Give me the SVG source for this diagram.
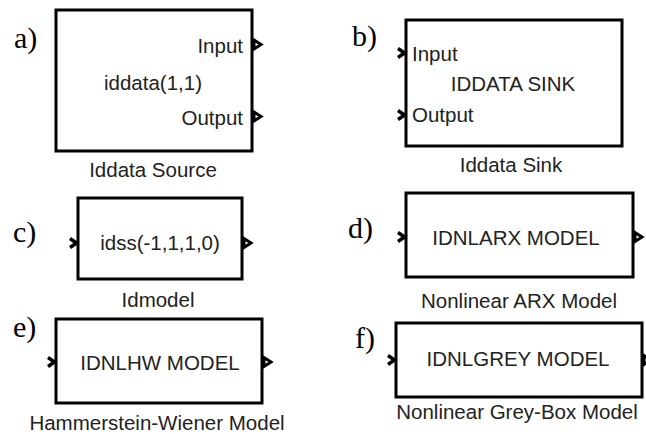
<svg xmlns="http://www.w3.org/2000/svg" width="646" height="434" viewBox="0 0 646 434">
<style>
.box{fill:#fff;stroke:#000;stroke-width:3}
.t{font-family:"Liberation Sans",Arial,sans-serif;font-size:20.5px;fill:#222}
.m{text-anchor:middle}
.lab{font-family:"Liberation Serif","Times New Roman",serif;font-size:30px;fill:#000}
.in{fill:none;stroke:#000;stroke-width:3.5;stroke-linejoin:miter}
.out{fill:#fff;stroke:#000;stroke-width:3;stroke-linejoin:miter}
</style>
<rect width="646" height="434" fill="#fff"/>
<g id="node-a">
<text class="lab" x="14" y="48">a)</text>
<rect class="box" x="56" y="10" width="196" height="141"/>
<text class="t" x="243" y="53" text-anchor="end">Input</text>
<text class="t m" x="153" y="90">iddata(1,1)</text>
<text class="t" x="243" y="125" text-anchor="end">Output</text>
<text class="t m" x="153" y="177">Iddata Source</text>
</g>
<g id="node-b">
<text class="lab" x="352" y="46">b)</text>
<rect class="box" x="406" y="20" width="216" height="126"/>
<text class="t" x="412" y="61">Input</text>
<text class="t m" x="513" y="91">IDDATA SINK</text>
<text class="t" x="412" y="122">Output</text>
<text class="t m" x="511" y="172">Iddata Sink</text>
</g>
<g id="node-c">
<text class="lab" x="13" y="242">c)</text>
<rect class="box" x="78" y="198" width="164" height="81"/>
<text class="t m" x="160" y="250">idss(-1,1,1,0)</text>
<text class="t m" x="158" y="307">Idmodel</text>
</g>
<g id="node-d">
<text class="lab" x="348" y="238">d)</text>
<rect class="box" x="406" y="193" width="227" height="84"/>
<text class="t m" x="516" y="245">IDNLARX MODEL</text>
<text class="t m" x="519" y="308">Nonlinear ARX Model</text>
</g>
<g id="node-e">
<text class="lab" x="13" y="337">e)</text>
<rect class="box" x="56" y="319" width="206" height="84"/>
<text class="t m" x="160" y="370">IDNLHW MODEL</text>
<text class="t m" x="157" y="430">Hammerstein-Wiener Model</text>
</g>
<g id="node-f">
<text class="lab" x="355" y="348">f)</text>
<rect class="box" x="396" y="323" width="246" height="74"/>
<text class="t m" x="518" y="366">IDNLGREY MODEL</text>
<text class="t m" x="517" y="419">Nonlinear Grey-Box Model</text>
</g>
<g id="ports">
<path class="out" d="M254,40 L261,44.5 L254,49 Z"/>
<path class="out" d="M254,112 L261,116.5 L254,121 Z"/>
<path class="in" d="M398,48.5 L404.5,53 L398,57.5"/>
<path class="in" d="M398,110.5 L404.5,115 L398,119.5"/>
<path class="in" d="M70,238.5 L76.5,243 L70,247.5"/>
<path class="out" d="M244,238.5 L251,243 L244,247.5 Z"/>
<path class="in" d="M398,232.5 L404.5,237 L398,241.5"/>
<path class="out" d="M635,232.5 L642,237 L635,241.5 Z"/>
<path class="in" d="M48,357.5 L54.5,362 L48,366.5"/>
<path class="out" d="M264,357.5 L271,362 L264,366.5 Z"/>
<path class="in" d="M388,355.5 L394.5,360 L388,364.5"/>
<path class="out" d="M644,355.5 L651,360 L644,364.5 Z"/>
</g>
</svg>
